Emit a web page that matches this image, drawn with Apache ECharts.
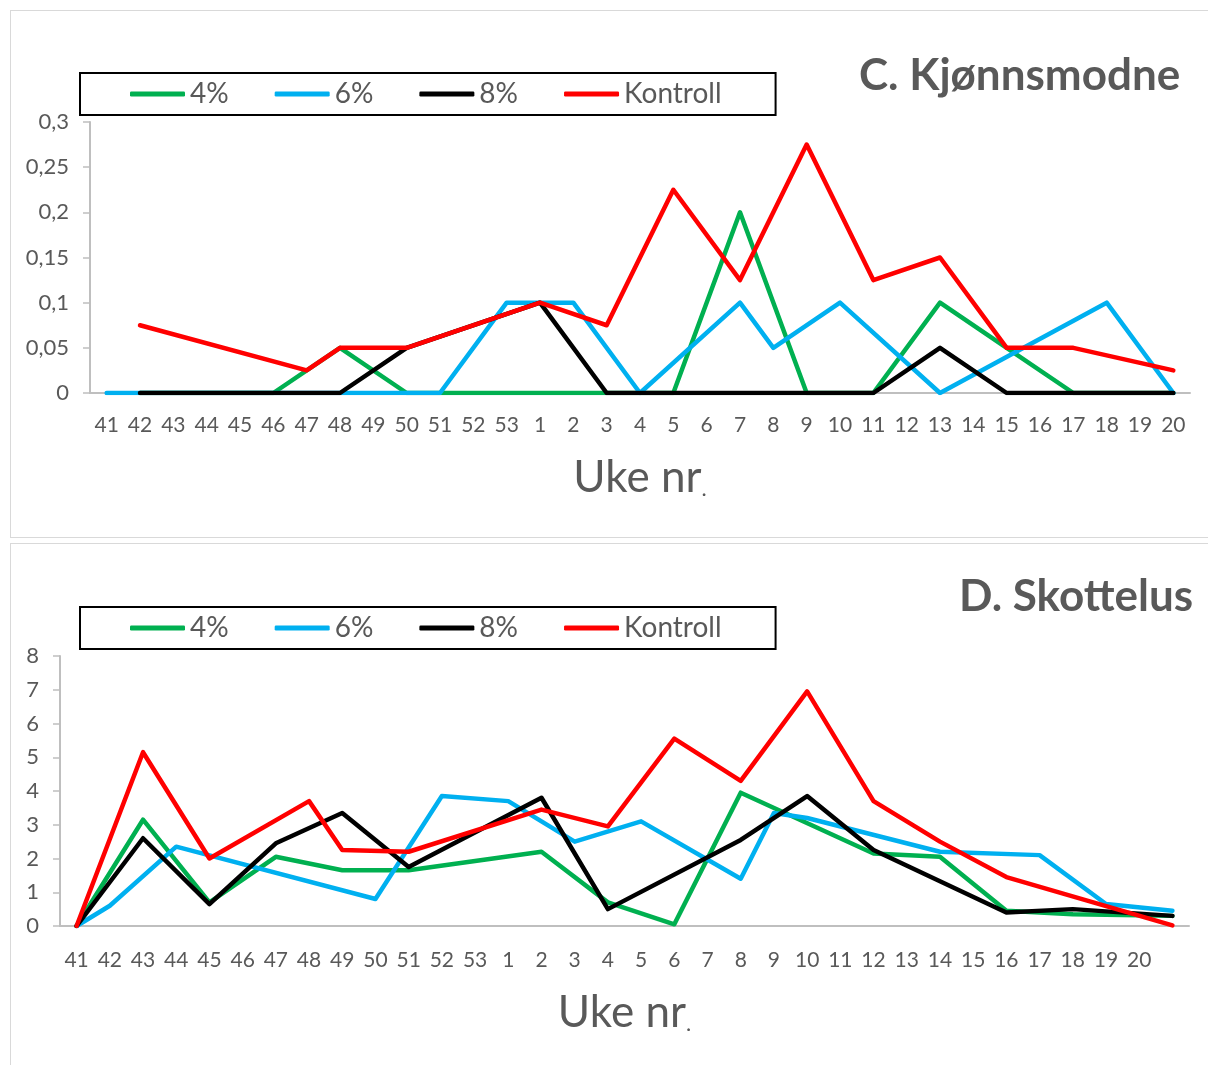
<!DOCTYPE html>
<html>
<head>
<meta charset="utf-8">
<script src="https://cdn.jsdelivr.net/npm/echarts@6/dist/echarts.min.js"></script>
<style>
  body { margin: 0; background: #fff; overflow: hidden; width: 1208px; height: 1065px; position: relative; }
  .panel { position: absolute; left: 10px; width: 1200px; border: 1px solid #d9d9d9; }
  #chartC { top: 10px; height: 526px; }
  #chartD { top: 543px; height: 530px; }
</style>
</head>
<body>
<div id="chartC" class="panel"></div>
<div id="chartD" class="panel"></div>
<script>
// week numbers (Uke nr.)
const weeksC = ['41','42','43','44','45','46','47','48','49','50','51','52','53',
  '1','2','3','4','5','6','7','8','9','10','11','12','13','14','15','16','17','18','19','20'];
const weeksD = weeksC.concat(['']);

// C. Kjønnsmodne  (null = no sample that week, line connects)
const c4 = [null,0,0,0,0,0,null,0.05,null,0,0,0,0, 0,0,0,0,0,null,0.2,null,0,0,0,null,0.1,null,0.05,null,0,0,0,0];
const c6 = [0,0,0,0,0,0,0,0,0,0,0,null,0.1, 0.1,0.1,null,0,null,null,0.1,0.05,null,0.1,null,null,0,null,null,null,null,0.1,null,0];
const c8 = [null,0,0,0,0,0,0,0,null,0.05,null,null,null, 0.1,null,0,0,0,0,0,0,0,0,0,null,0.05,null,0,0,0,0,0,0];
const cKontroll = [null,0.075,null,null,null,null,0.025,0.05,null,0.05,null,null,null, 0.1,null,0.075,null,0.225,null,0.125,null,0.275,null,0.125,null,0.15,null,0.05,null,0.05,null,null,0.025];

// D. Skottelus
const d4 = [0,null,3.15,null,0.7,null,2.05,null,1.65,null,1.65,null,null, null,2.2,null,0.7,null,0.05,null,3.95,null,null,null,2.15,null,2.05,null,0.45,null,0.35,null,null,0.3];
const d6 = [0,0.6,null,2.35,null,null,null,null,null,0.8,null,3.85,null, 3.7,null,2.5,null,3.1,null,null,1.4,3.35,3.2,null,null,null,2.2,null,null,2.1,null,0.65,null,0.45];
const d8 = [0,null,2.6,null,0.65,null,2.45,null,3.35,null,1.75,null,null, null,3.8,null,0.5,null,null,null,2.55,null,3.85,null,2.25,null,null,null,0.4,null,0.5,null,null,0.3];
const dKontroll = [0,null,5.15,null,2.0,null,null,3.7,2.25,null,2.2,null,null, null,3.45,null,2.95,null,5.55,null,4.3,null,6.95,null,3.7,null,2.5,null,1.45,null,null,null,null,0.02];

const seriesNames = ['4%', '6%', '8%', 'Kontroll'];
const seriesColors = ['#00B050', '#00B0F0', '#000000', '#FF0000'];

const textColor = '#595959';
const axisColor = '#BFBFBF';
const fontFamily = 'Lato, "Open Sans", sans-serif';

function buildOption(cfg) {
  return {
    animation: false,
    textStyle: { fontFamily: fontFamily },
    title: {
      text: cfg.title,
      left: cfg.titleLeft,
      top: cfg.titleTop,
      textStyle: { color: textColor, fontSize: 44, fontWeight: 'bold', fontFamily: fontFamily }
    },
    legend: {
      left: 69,
      top: cfg.legendTop,
      data: seriesNames,
      icon: 'roundRect',
      itemWidth: 55,
      itemHeight: 5,
      itemGap: 46,
      padding: [7, 54, 7, 50],
      borderColor: '#000',
      borderWidth: 2,
      textStyle: { color: textColor, fontSize: 28, fontFamily: fontFamily }
    },
    grid: cfg.grid,
    xAxis: {
      type: 'category',
      data: cfg.weeks,
      boundaryGap: true,
      name: '{a|Uke nr}{b|.}',
      nameLocation: 'middle',
      nameGap: cfg.nameGap,
      nameTextStyle: {
        rich: {
          a: { fontSize: 44, color: textColor, fontFamily: fontFamily },
          b: { fontSize: 22, color: textColor, fontFamily: fontFamily, verticalAlign: 'bottom', padding: [16, 0, 0, 0] }
        }
      },
      axisLine: { lineStyle: { color: axisColor, width: 2 } },
      axisTick: { alignWithLabel: true, length: 7, lineStyle: { color: axisColor, width: 1.5 } },
      axisLabel: { color: textColor, fontSize: 21, margin: cfg.labelMargin, interval: 0 }
    },
    yAxis: {
      type: 'value',
      min: 0,
      max: cfg.yMax,
      interval: cfg.yInterval,
      axisLine: { show: true, lineStyle: { color: axisColor, width: 2 } },
      axisTick: { show: true, length: 7, lineStyle: { color: axisColor, width: 1.5 } },
      splitLine: { show: false },
      axisLabel: {
        color: textColor,
        fontSize: 22,
        margin: 21,
        formatter: function (v) { return String(+v.toFixed(2)).replace('.', ','); }
      }
    },
    series: cfg.data.map(function (values, i) {
      return {
        name: seriesNames[i],
        type: 'line',
        data: values,
        connectNulls: true,
        showSymbol: false,
        symbol: 'none',
        lineStyle: { color: seriesColors[i], width: 4.5, cap: 'round', join: 'round' },
        itemStyle: { color: seriesColors[i] }
      };
    })
  };
}

const chartC = echarts.init(document.getElementById('chartC'));
chartC.setOption(buildOption({
  title: 'C. Kjønnsmodne',
  titleLeft: 843,
  titleTop: 38,
  legendTop: 62,
  grid: { left: 79, right: 21, top: 111, bottom: 144 },
  weeks: weeksC,
  labelMargin: 22,
  nameGap: 63,
  yMax: 0.3,
  yInterval: 0.05,
  data: [c4, c6, c8, cKontroll]
}));

const chartD = echarts.init(document.getElementById('chartD'));
chartD.setOption(buildOption({
  title: 'D. Skottelus',
  titleLeft: 943,
  titleTop: 26,
  legendTop: 63,
  grid: { left: 49, right: 22, top: 112, bottom: 148 },
  weeks: weeksD,
  labelMargin: 24,
  nameGap: 65,
  yMax: 8,
  yInterval: 1,
  data: [d4, d6, d8, dKontroll]
}));
</script>
</body>
</html>
